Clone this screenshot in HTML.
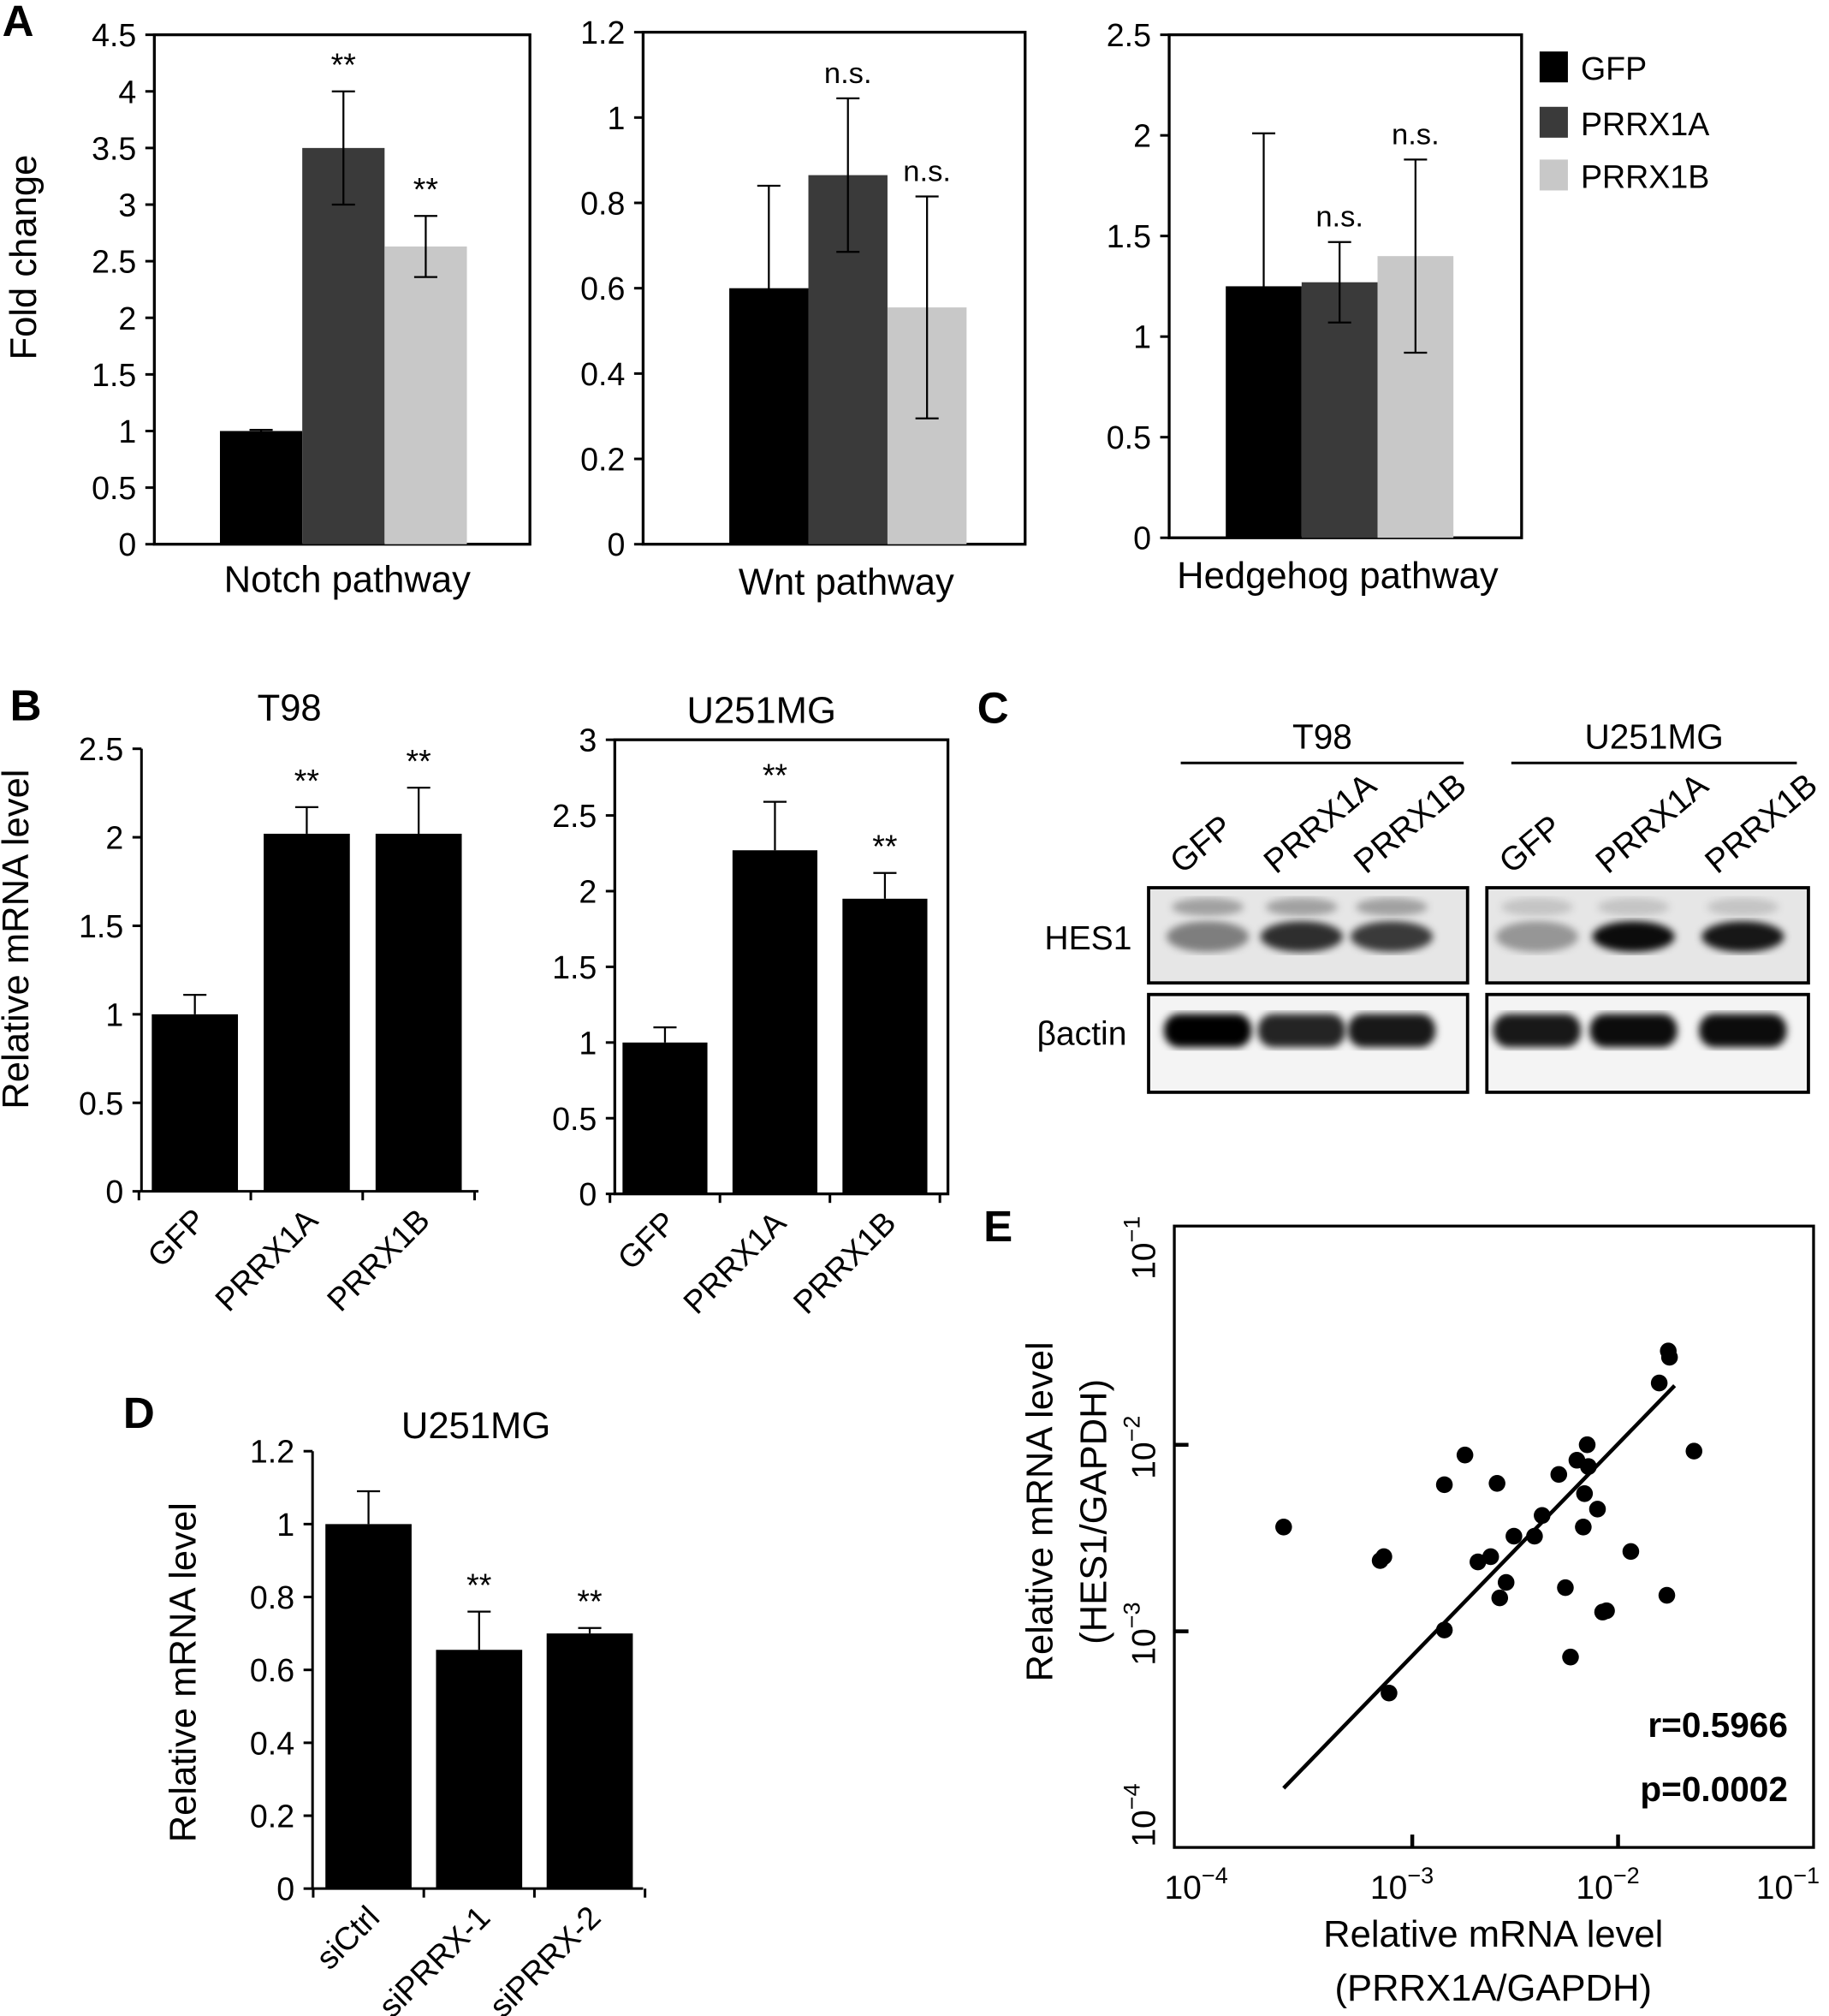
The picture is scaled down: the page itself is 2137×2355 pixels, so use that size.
<!DOCTYPE html>
<html><head><meta charset="utf-8"><style>
body{margin:0;background:#fff}
svg{display:block}
text{font-family:"Liberation Sans",sans-serif;fill:#000}
</style></head><body>
<svg id="fig" width="2137" height="2355" viewBox="0 0 1422 1567" xmlns="http://www.w3.org/2000/svg">
<defs><filter id="blur2"><feGaussianBlur stdDeviation="3"/></filter></defs>
<g id="root"></g>
</svg>
<script>
// Panel A data
const aGroups=["GFP","PRRX1A","PRRX1B"];
const notchVals=[1.0,3.5,2.63];
const notchErr=[0.01,0.5,0.27];
const wntVals=[0.6,0.865,0.555];
const wntErr=[0.24,0.18,0.26];
const hhVals=[1.25,1.27,1.4];
const hhErr=[0.76,0.2,0.48];
const notchTicks=["0","0.5","1","1.5","2","2.5","3","3.5","4","4.5"];
const wntTicks=["0","0.2","0.4","0.6","0.8","1","1.2"];
const hhTicks=["0","0.5","1","1.5","2","2.5"];
// Panel B data
const bCats=["GFP","PRRX1A","PRRX1B"];
const t98Vals=[1.0,2.02,2.02];
const t98Err=[0.11,0.15,0.26];
const u251Vals=[1.0,2.27,1.95];
const u251Err=[0.1,0.32,0.17];
const t98Ticks=["0","0.5","1","1.5","2","2.5"];
const u251Ticks=["0","0.5","1","1.5","2","2.5","3"];
// Panel D data
const dCats=["siCtrl","siPRRX-1","siPRRX-2"];
const dVals=[1.0,0.655,0.70];
const dErr=[0.09,0.105,0.015];
const dTicks=["0","0.2","0.4","0.6","0.8","1","1.2"];
// Panel E data (log10 values)
const eLogX=[-3.625,-3.156,-3.138,-3.113,-2.844,-2.844,-2.744,-2.681,-2.619,-2.588,-2.575,-2.544,-2.506,-2.406,-2.369,-2.288,-2.256,-2.231,-2.2,-2.169,-2.15,-2.144,-2.163,-2.1,-2.075,-2.056,-1.938,-1.8,-1.756,-1.75,-1.763,-1.631];
const eLogY=[-2.441,-2.621,-2.6,-3.331,-2.993,-2.214,-2.055,-2.628,-2.6,-2.207,-2.821,-2.738,-2.49,-2.49,-2.379,-2.159,-2.766,-3.138,-2.083,-2.441,-2.0,-2.117,-2.262,-2.345,-2.897,-2.89,-2.572,-1.669,-1.497,-1.531,-2.807,-2.034];
const fitX=[-3.625,-1.725];
const fitY=[-3.841,-1.683];

const NS="http://www.w3.org/2000/svg";
const root=document.getElementById('root');
function mk(tag,attrs,parent,txt){const e=document.createElementNS(NS,tag);for(const k in attrs)e.setAttribute(k,attrs[k]);if(txt!==undefined)e.textContent=txt;(parent||root).appendChild(e);return e;}
function txt(x,y,s,size,anchor,name,extra){const t=mk('text',Object.assign({x:x,y:y,'font-size':size,'text-anchor':anchor||'middle'},extra||{}),root,s);


return t;}
function line(x1,y1,x2,y2,w,name){const l=mk('line',{x1,y1,x2,y2,stroke:'#000','stroke-width':w||2});


return l;}

function barChart(o){
 const ymax=parseFloat(o.ticks[o.ticks.length-1]);
 const ys=v=>o.y0-(v/ymax)*(o.y0-o.y1);
 if(o.box){const r=mk('rect',{x:o.x0,y:o.y1,width:o.x1-o.x0,height:o.y0-o.y1,fill:'none',stroke:'#000','stroke-width':2.2});
  
  }
 else {line(o.x0,o.y1,o.x0,o.y0,2,o.name+'-y-axis');line(o.x0,o.y0,o.x1,o.y0,2,o.name+'-x-axis');}
 o.ticks.forEach(t=>{const y=ys(parseFloat(t));line(o.x0-7,y,o.x0,y,2,o.name+'-y-tick');txt(o.x0-14,y+9,t,25,'end',o.name+'-y-tick-label');});
 o.vals.forEach((v,i)=>{
  const bx=o.bx0+i*o.step,by=ys(v);
  const r=mk('rect',{x:bx,y:by,width:o.bw,height:o.y0-by,fill:o.colors[i]});
  
  
  const cx=bx+o.bw/2,e=o.err[i],yt=ys(v+e),yb=o.errDown?ys(v-e):by;
  line(cx,yt,cx,yb,1.5,o.name+'-error-bar');
  line(cx-9,yt,cx+9,yt,1.5,o.name+'-error-cap');
  if(o.errDown)line(cx-9,yb,cx+9,yb,1.5,o.name+'-error-cap');
  if(o.sig&&o.sig[i])txt(cx,yt-12,o.sig[i],o.sig[i]=='**'?25:23,'middle',o.name+'-significance');
  if(o.xlabels){line(cx+o.step/2,o.y0,cx+o.step/2,o.y0+7,2,o.name+'-x-tick');
   if(i==0)line(cx-o.step/2,o.y0,cx-o.step/2,o.y0+7,2,o.name+'-x-tick');
   txt(cx+10,o.y0+24,o.cats[i],25,'end',o.name+'-x-label',{transform:`rotate(-45 ${cx+10} ${o.y0+24})`});}
 });
}
const aCols=['#000','#3a3a3a','#c8c8c8'];
barChart({name:'notch',x0:120,x1:412,y0:423,y1:27,ticks:notchTicks,vals:notchVals,err:notchErr,bx0:171,step:64,bw:64,colors:aCols,box:true,errDown:true,sig:['','**','**'],cats:aGroups});
txt(270,460,'Notch pathway',29,'middle','notch-x-title');
barChart({name:'wnt',x0:500,x1:797,y0:423,y1:25,ticks:wntTicks,vals:wntVals,err:wntErr,bx0:567,step:61.5,bw:61.5,colors:aCols,box:true,errDown:true,sig:['','n.s.','n.s.'],cats:aGroups});
txt(658,462,'Wnt pathway',29,'middle','wnt-x-title');
barChart({name:'hedgehog',x0:909,x1:1183,y0:418,y1:27,ticks:hhTicks,vals:hhVals,err:hhErr,bx0:953,step:59,bw:59,colors:aCols,box:true,errDown:true,sig:['','n.s.','n.s.'],cats:aGroups});
txt(1040,457,'Hedgehog pathway',29,'middle','hedgehog-x-title');
txt(28,200,'Fold change',29,'middle','y-axis-title-a',{transform:'rotate(-90 28 200)'});
aGroups.forEach((g,i)=>{const y=[52,95,136][i];const r=mk('rect',{x:1197,y:y-12,width:22,height:24,fill:aCols[i]});
 
 
 txt(1229,y+10,g,25,'start','legend-entry-'+g.toLowerCase());});
txt(14,28,'A',34,'middle','panel-label-a',{'font-weight':'bold'});

const bk=['#000','#000','#000'];
barChart({name:'t98',x0:110,x1:372,y0:926,y1:582,ticks:t98Ticks,vals:t98Vals,err:t98Err,bx0:118,step:87,bw:67,colors:bk,sig:['','**','**'],cats:bCats,xlabels:true});
txt(225,560,'T98',29,'middle','t98-title');
barChart({name:'u251',x0:478,x1:737,y0:928,y1:575,ticks:u251Ticks,vals:u251Vals,err:u251Err,bx0:484,step:85.5,bw:66,colors:bk,box:true,sig:['','**','**'],cats:bCats,xlabels:true});
txt(592,562,'U251MG',29,'middle','u251-title');
txt(22,730,'Relative mRNA level',29,'middle','y-axis-title-b',{transform:'rotate(-90 22 730)'});
txt(20,560,'B',34,'middle','panel-label-b',{'font-weight':'bold'});

barChart({name:'d',x0:243,x1:500,y0:1468,y1:1128,ticks:dTicks,vals:dVals,err:dErr,bx0:253,step:86,bw:67,colors:bk,sig:['','**','**'],cats:dCats,xlabels:true});
txt(370,1118,'U251MG',29,'middle','d-title');
txt(152,1300,'Relative mRNA level',29,'middle','y-axis-title-d',{transform:'rotate(-90 152 1300)'});
txt(108,1110,'D',34,'middle','panel-label-d',{'font-weight':'bold'});

txt(772,562,'C',34,'middle','panel-label-c',{'font-weight':'bold'});
line(918,593,1138,593,2,'t98-bracket');line(1175,593,1397,593,2,'u251-bracket');
txt(1028,582,'T98',27,'middle','blot-t98-label');txt(1286,582,'U251MG',27,'middle','blot-u251-label');
const lanes=[[939,1012,1082],[1195,1270,1355]];
const laneLbl=['GFP','PRRX1A','PRRX1B'];
lanes.forEach((ls,gi)=>ls.forEach((x,i)=>{txt(x-20,680,laneLbl[i],26,'start','lane-label',{transform:`rotate(-40 ${x-20} 680)`});}));
const hes=[[0.45,0.8,0.75],[0.35,0.95,0.9]];
const act=[[1,0.85,0.9],[0.9,0.95,0.95]];
[[893,1141],[1156,1406]].forEach((b,gi)=>{
 const r1=mk('rect',{x:b[0],y:690,width:b[1]-b[0],height:74,fill:'#e6e6e6',stroke:'#000','stroke-width':2.5});
 
 const r2=mk('rect',{x:b[0],y:773,width:b[1]-b[0],height:76,fill:'#f4f4f4',stroke:'#000','stroke-width':2.5});
 
 lanes[gi].forEach((x,i)=>{
  const h=mk('ellipse',{cx:x,cy:728,rx:32,ry:12,fill:'#000','fill-opacity':hes[gi][i],filter:'url(#blur2)'});
  
  const h2=mk('ellipse',{cx:x,cy:705,rx:28,ry:7,fill:'#000','fill-opacity':gi==0?0.3:0.15,filter:'url(#blur2)'});
  
  const a=mk('rect',{x:x-34,y:788,width:68,height:26,rx:12,fill:'#000','fill-opacity':act[gi][i],filter:'url(#blur2)'});
  
 });
});
txt(880,738,'HES1',26,'end','hes1-label');txt(876,812,'βactin',26,'end','actin-label');

const ex=v=>938+(v+4)*160, ey=v=>1123-(v+2)*145;
const fr=mk('rect',{x:913,y:953,width:497,height:483,fill:'none',stroke:'#000','stroke-width':2.2});

[-4,-3,-2,-1].forEach(p=>{const x=ex(p);if(p>-4&&p<-1)line(x,1436,x,1426,3,'x-tick');
 const lx=p==-1?x-28:x-8;
 const t=txt(lx,1476,'10',26,'middle','x-tick-label');mk('tspan',{dy:-12,'font-size':18},t,String.fromCharCode(8722)+Math.abs(p));});
[-4,-3,-2,-1].forEach(p=>{const y=ey(p);if(p>-4&&p<-1)line(913,y,924,y,3,'y-tick');
 const tx=898;const yy=p==-1?y-8:(p==-4?y-2:y+2);const t=txt(tx,yy,'10',26,'middle','y-tick-label',{transform:`rotate(-90 ${tx} ${yy})`});mk('tspan',{dy:-12,'font-size':18},t,String.fromCharCode(8722)+Math.abs(p));});
const fit=mk('line',{x1:ex(fitX[0]),y1:ey(fitY[0]),x2:ex(fitX[1]),y2:ey(fitY[1]),stroke:'#000','stroke-width':3});

eLogX.forEach((v,i)=>{const c=mk('circle',{cx:ex(v),cy:ey(eLogY[i]),r:6.5,fill:'#000'});
 
 });
txt(1390,1350,'r=0.5966',27,'end','r-value',{'font-weight':'bold'});
txt(1390,1400,'p=0.0002',27,'end','p-value',{'font-weight':'bold'});
txt(1161,1513,'Relative mRNA level',29,'middle','x-axis-title-e');
txt(1161,1555,'(PRRX1A/GAPDH)',29,'middle','x-axis-title-e-2');
txt(818,1175,'Relative mRNA level',29,'middle','y-axis-title-e',{transform:'rotate(-90 818 1175)'});
txt(860,1175,'(HES1/GAPDH)',29,'middle','y-axis-title-e-2',{transform:'rotate(-90 860 1175)'});
txt(776,965,'E',34,'middle','panel-label-e',{'font-weight':'bold'});
</script>
</body></html>
